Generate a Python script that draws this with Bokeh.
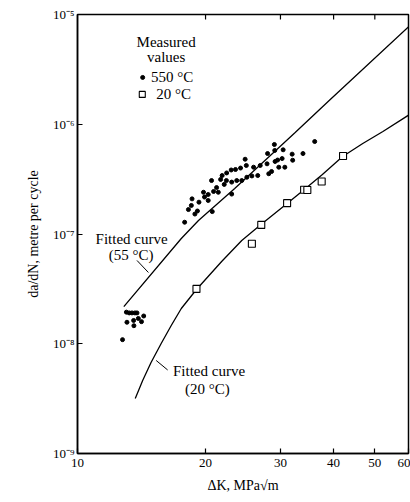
from bokeh.plotting import figure
from bokeh.models import FixedTicker, Label
from bokeh.embed import file_html
from bokeh.resources import INLINE

# ---- data ----
k_550 = [12.76, 13.03, 13.23, 13.43, 13.65, 13.80, 13.07, 13.55, 13.57, 13.90, 14.14, 14.31,
         17.86, 18.23, 18.52, 18.59, 18.88, 19.14, 19.30, 19.78, 19.89, 20.29, 20.29, 20.66,
         20.74, 20.89, 21.23, 21.43, 21.70, 21.88, 22.13, 22.39, 22.42, 22.98, 23.04, 23.04,
         23.52, 23.68, 24.17, 24.33, 24.78, 24.94, 25.01, 25.70, 25.94, 26.53, 26.89, 27.90,
         27.98, 28.16, 28.59, 29.03, 29.09, 29.14, 29.54, 29.73, 30.27, 30.44, 30.72, 31.96,
         32.05, 33.89, 36.11]
r_550 = [1.09e-8, 1.94e-8, 1.91e-8, 1.91e-8, 1.91e-8, 1.91e-8, 1.57e-8, 1.63e-8, 1.46e-8, 1.70e-8, 1.59e-8, 1.79e-8,
         1.28e-7, 1.67e-7, 1.82e-7, 2.09e-7, 1.52e-7, 1.62e-7, 1.95e-7, 2.40e-7, 2.17e-7, 2.29e-7, 2.02e-7, 3.07e-7,
         1.60e-7, 2.44e-7, 2.65e-7, 2.40e-7, 3.14e-7, 3.41e-7, 2.83e-7, 3.07e-7, 3.60e-7, 3.83e-7, 2.31e-7, 2.97e-7,
         3.87e-7, 3.07e-7, 3.99e-7, 3.07e-7, 4.80e-7, 4.21e-7, 3.29e-7, 3.38e-7, 4.06e-7, 3.41e-7, 4.21e-7, 4.36e-7,
         5.41e-7, 3.54e-7, 3.71e-7, 6.54e-7, 5.77e-7, 4.58e-7, 4.72e-7, 4.06e-7, 4.87e-7, 5.85e-7, 4.06e-7, 5.34e-7,
         4.70e-7, 5.41e-7, 6.96e-7]

k_20 = [19.04, 25.7, 27.04, 31.1, 34.1, 34.7, 37.5, 42.1]
r_20 = [3.16e-8, 8.14e-8, 1.21e-7, 1.91e-7, 2.53e-7, 2.52e-7, 3.01e-7, 5.14e-7]

fit55_k = [12.85, 17.54, 19.25, 23.42, 32.49, 39.06, 60.86]
fit55_r = [2.18e-8, 9.10e-8, 1.327e-7, 2.598e-7, 8.41e-7, 1.646e-6, 8.11e-6]

fit20_k = [13.67, 14.23, 14.89, 15.73, 16.61, 17.54, 19.04, 21.82, 24.33, 27.00,
           31.1, 34.14, 37.65, 42.01, 46.84, 52.24, 60.86]
fit20_r = [3.17e-9, 4.63e-9, 6.75e-9, 1.005e-8, 1.467e-8, 2.096e-8, 3.12e-8, 5.62e-8, 8.73e-8, 1.221e-7,
           1.896e-7, 2.544e-7, 3.485e-7, 5.08e-7, 6.68e-7, 8.59e-7, 1.253e-6]

x_ticks = [10, 20, 30, 40, 50, 60]
x_tick_labels = ["10", "20", "30", "40", "50", "60"]
top_ticks = [20, 30, 40, 50]
y_ticks = [1e-9, 1e-8, 1e-7, 1e-6, 1e-5]
y_tick_labels = ["10\u207b\u2079", "10\u207b\u2078", "10\u207b\u2077", "10\u207b\u2076", "10\u207b\u2075"]

X_MIN, X_MAX = 10, 60
Y_MIN, Y_MAX = 1e-9, 1e-5

FONT = "Liberation Serif"

p = figure(width=410, height=502, x_axis_type="log", y_axis_type="log",
           x_range=(X_MIN, X_MAX), y_range=(Y_MIN, Y_MAX),
           output_backend="svg", toolbar_location=None,
           min_border_left=77, min_border_right=2, min_border_top=14, min_border_bottom=49)
p.grid.visible = False
p.outline_line_color = "black"
p.outline_line_width = 1.5
p.background_fill_color = "white"
p.border_fill_color = "white"

# axes
p.xaxis.ticker = FixedTicker(ticks=x_ticks, minor_ticks=[])
p.xaxis.major_label_overrides = {float(t): l for t, l in zip(x_ticks, x_tick_labels)}
p.yaxis.ticker = FixedTicker(ticks=y_ticks, minor_ticks=[])
p.yaxis.major_label_overrides = {t: l for t, l in zip(y_ticks, y_tick_labels)}
for ax in (p.xaxis[0], p.yaxis[0]):
    ax.major_tick_in = 5
    ax.major_tick_out = 0
    ax.minor_tick_in = 0
    ax.minor_tick_out = 0
    ax.axis_line_width = 1.5
    ax.major_tick_line_width = 1.2
    ax.major_label_text_font = FONT
    ax.major_label_text_font_size = "13px"
    ax.major_label_text_color = "black"
    ax.axis_label_text_font = FONT
    ax.axis_label_text_font_style = "normal"
    ax.axis_label_text_font_size = "14px"
    ax.axis_label_text_color = "black"
p.xaxis.major_label_standoff = 5
p.xaxis.axis_label_standoff = 8
p.yaxis.major_label_standoff = 3
p.yaxis.axis_label_standoff = 9
p.xaxis.axis_label = "\u0394K, MPa\u221am"
p.yaxis.axis_label = "da/dN, metre per cycle"

# inward tick marks along the top edge
tick_len = 10 ** (-5 / 110)
p.segment(x0=top_ticks, y0=[Y_MAX] * len(top_ticks), x1=top_ticks,
          y1=[Y_MAX * tick_len] * len(top_ticks), line_color="black", line_width=1.2)

# fitted curves
p.line(fit55_k, fit55_r, line_color="black", line_width=1.3)
p.line(fit20_k, fit20_r, line_color="black", line_width=1.3)

# measured values
p.scatter(k_550, r_550, marker="circle", size=4, fill_color="black", line_color="black")
p.scatter(k_20, r_20, marker="square", size=7, fill_color="white", line_color="black", line_width=1.1)

# annotations
def txt(x, y, s, align="center"):
    p.add_layout(Label(x=x, y=y, text=s, text_font=FONT, text_font_size="15px",
                       text_align=align, text_baseline="middle", text_color="black"))

txt(16.16, 5.59e-6, "Measured")
txt(16.16, 4.14e-6, "values")
p.scatter([14.23], [2.67e-6], marker="circle", size=4, fill_color="black", line_color="black")
txt(14.89, 2.67e-6, "550 \u00b0C", "left")
p.scatter([14.2], [1.87e-6], marker="square", size=6, fill_color="white", line_color="black", line_width=1.1)
txt(15.31, 1.87e-6, "20 \u00b0C", "left")

txt(13.40, 9.04e-8, "Fitted curve")
txt(13.36, 6.46e-8, "(55 \u00b0C)")
p.line([13.80, 14.68], [5.74e-8, 4.46e-8], line_color="black", line_width=1)

txt(20.38, 5.59e-9, "Fitted curve")
txt(20.21, 3.91e-9, "(20 \u00b0C)")
p.line([16.29, 15.31], [5.77e-9, 7.04e-9], line_color="black", line_width=1)

open("out.html", "w").write(file_html(p, INLINE))
